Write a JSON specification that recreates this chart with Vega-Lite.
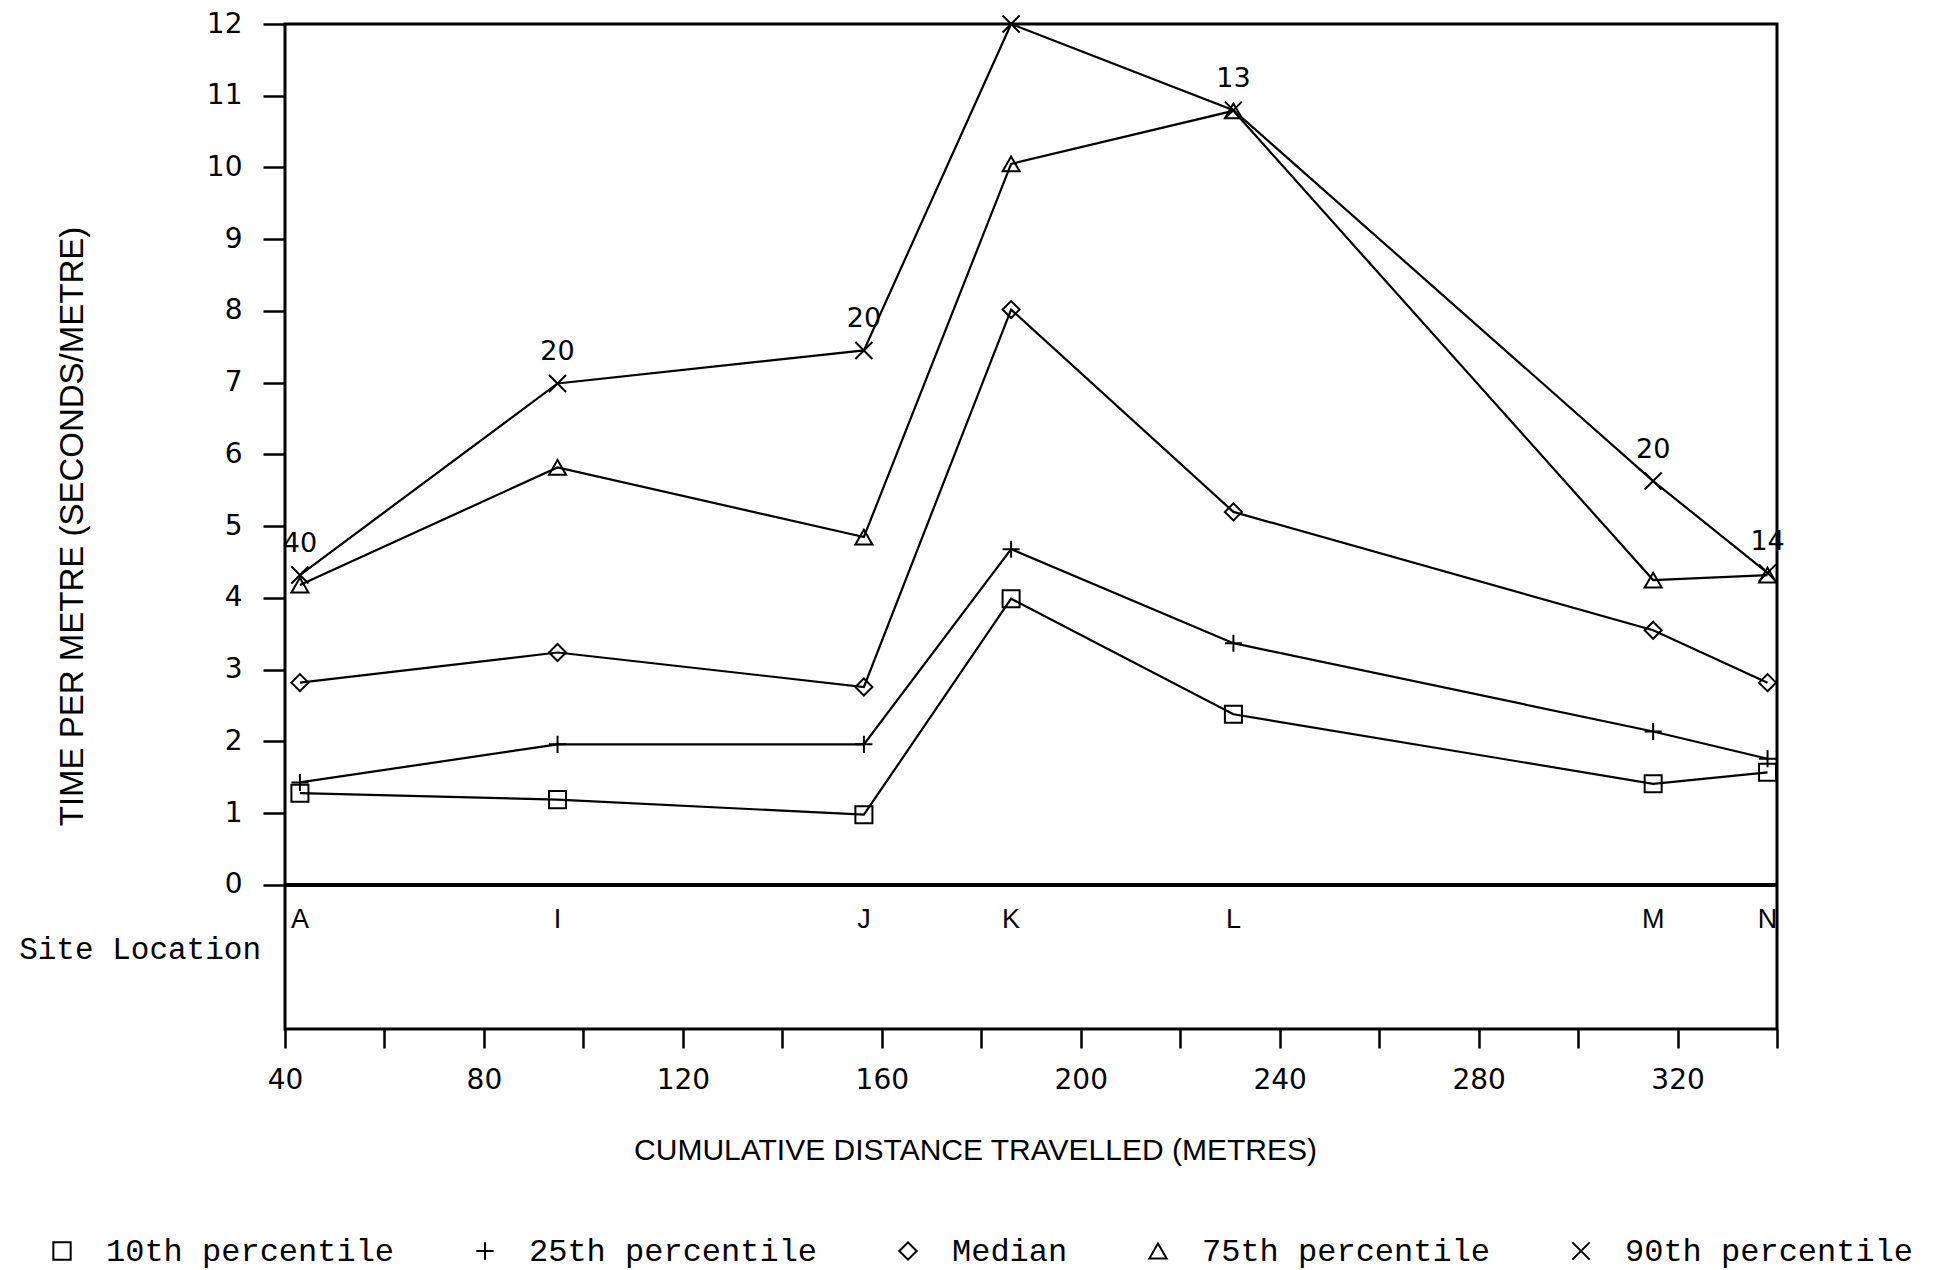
{
  "$schema": "https://vega.github.io/schema/vega-lite/v6.json",
  "width": 1492,
  "height": 1005,
  "autosize": {"type": "none"},
  "padding": {"left": 285, "top": 24, "right": 158, "bottom": 241},
  "background": "white",
  "config": {
    "view": {"stroke": "black", "strokeWidth": 3},
    "font": "Liberation Sans",
    "axis": {"grid": false, "domain": false, "tickColor": "black", "labelColor": "black", "titleColor": "black", "titleFontWeight": "normal", "labelFont": "DejaVu Sans"}
  },
  "data": {
    "values": [
      {"site": "A", "x": 43, "series": "10th percentile", "value": 1.28},
      {"site": "I", "x": 94.8, "series": "10th percentile", "value": 1.19},
      {"site": "J", "x": 156.4, "series": "10th percentile", "value": 0.98},
      {"site": "K", "x": 186, "series": "10th percentile", "value": 3.99},
      {"site": "L", "x": 230.7, "series": "10th percentile", "value": 2.38},
      {"site": "M", "x": 315.1, "series": "10th percentile", "value": 1.41},
      {"site": "N", "x": 338.1, "series": "10th percentile", "value": 1.57},
      {"site": "A", "x": 43, "series": "25th percentile", "value": 1.43},
      {"site": "I", "x": 94.8, "series": "25th percentile", "value": 1.96},
      {"site": "J", "x": 156.4, "series": "25th percentile", "value": 1.96},
      {"site": "K", "x": 186, "series": "25th percentile", "value": 4.68},
      {"site": "L", "x": 230.7, "series": "25th percentile", "value": 3.37},
      {"site": "M", "x": 315.1, "series": "25th percentile", "value": 2.14},
      {"site": "N", "x": 338.1, "series": "25th percentile", "value": 1.76},
      {"site": "A", "x": 43, "series": "Median", "value": 2.82},
      {"site": "I", "x": 94.8, "series": "Median", "value": 3.24},
      {"site": "J", "x": 156.4, "series": "Median", "value": 2.76},
      {"site": "K", "x": 186, "series": "Median", "value": 8.02},
      {"site": "L", "x": 230.7, "series": "Median", "value": 5.2},
      {"site": "M", "x": 315.1, "series": "Median", "value": 3.55},
      {"site": "N", "x": 338.1, "series": "Median", "value": 2.82},
      {"site": "A", "x": 43, "series": "75th percentile", "value": 4.18},
      {"site": "I", "x": 94.8, "series": "75th percentile", "value": 5.82},
      {"site": "J", "x": 156.4, "series": "75th percentile", "value": 4.85},
      {"site": "K", "x": 186, "series": "75th percentile", "value": 10.05},
      {"site": "L", "x": 230.7, "series": "75th percentile", "value": 10.79},
      {"site": "M", "x": 315.1, "series": "75th percentile", "value": 4.25},
      {"site": "N", "x": 338.1, "series": "75th percentile", "value": 4.32},
      {"site": "A", "x": 43, "series": "90th percentile", "value": 4.32, "n": "40"},
      {"site": "I", "x": 94.8, "series": "90th percentile", "value": 6.99, "n": "20"},
      {"site": "J", "x": 156.4, "series": "90th percentile", "value": 7.45, "n": "20"},
      {"site": "K", "x": 186, "series": "90th percentile", "value": 12.0},
      {"site": "L", "x": 230.7, "series": "90th percentile", "value": 10.8, "n": "13"},
      {"site": "M", "x": 315.1, "series": "90th percentile", "value": 5.63, "n": "20"},
      {"site": "N", "x": 338.1, "series": "90th percentile", "value": 4.35, "n": "14"}
    ]
  },
  "layer": [
    {
      "mark": {"type": "line", "stroke": "black", "strokeWidth": 2.2},
      "encoding": {
        "x": {
          "field": "x", "type": "quantitative", "title": "CUMULATIVE DISTANCE TRAVELLED (METRES)",
          "scale": {"domain": [40, 340], "nice": false, "zero": false},
          "axis": {
            "values": [40, 60, 80, 100, 120, 140, 160, 180, 200, 220, 240, 260, 280, 300, 320, 340],
            "labelExpr": "datum.value % 40 == 0 && datum.value < 340 ? datum.label : ''",
            "tickSize": 19, "tickWidth": 2.5, "labelFontSize": 28, "labelPadding": 32, "labelBaseline": "middle",
            "labelFlush": false, "labelOverlap": false,
            "titleFontSize": 30, "titleX": 690, "titleY": 121, "titleBaseline": "middle", "titleAlign": "center"
          }
        },
        "y": {
          "field": "value", "type": "quantitative", "title": "TIME PER METRE (SECONDS/METRE)",
          "scale": {"domain": [-2.007, 12], "nice": false, "zero": false},
          "axis": {
            "values": [0, 1, 2, 3, 4, 5, 6, 7, 8, 9, 10, 11, 12], "format": "d",
            "tickSize": 22, "tickWidth": 2.5, "labelFontSize": 28, "labelPadding": 21,
            "titleFontSize": 33, "titleX": -213, "titleY": 502, "titleAngle": -90, "titleBaseline": "middle", "titleAlign": "center"
          }
        },
        "detail": {"field": "series"}
      }
    },
    {
      "mark": {"type": "rule", "stroke": "black", "strokeWidth": 3},
      "encoding": {"y": {"datum": 0, "type": "quantitative"}}
    },
    {
      "mark": {"type": "point", "filled": false, "stroke": "black", "strokeWidth": 2, "size": 290, "opacity": 1},
      "encoding": {
        "x": {"field": "x", "type": "quantitative", "title": "CUMULATIVE DISTANCE TRAVELLED (METRES)"},
        "y": {"field": "value", "type": "quantitative", "title": "TIME PER METRE (SECONDS/METRE)"},
        "shape": {
          "field": "series", "type": "nominal",
          "scale": {
            "domain": ["10th percentile", "25th percentile", "Median", "75th percentile", "90th percentile"],
            "range": ["square", "M-1,0L1,0M0,-1L0,1", "diamond", "triangle-up", "M-1,-1L1,1M-1,1L1,-1"]
          },
          "legend": {
            "title": null, "orient": "none", "legendX": -239, "legendY": 1211, "direction": "horizontal",
            "padding": 0, "labelFont": "Liberation Mono", "labelFontSize": 32, "labelColor": "black",
            "labelOffset": 28, "columnPadding": 74, "symbolSize": 300, "symbolStrokeColor": "black",
            "symbolStrokeWidth": 2, "symbolFillColor": "transparent", "labelLimit": 0
          }
        }
      }
    },
    {
      "transform": [{"filter": "isValid(datum.n)"}],
      "mark": {"type": "text", "font": "DejaVu Sans", "fontSize": 27, "dy": -31, "baseline": "middle", "align": "center", "color": "black"},
      "encoding": {
        "x": {"field": "x", "type": "quantitative", "title": "CUMULATIVE DISTANCE TRAVELLED (METRES)"},
        "y": {"field": "value", "type": "quantitative", "title": "TIME PER METRE (SECONDS/METRE)"},
        "text": {"field": "n"}
      }
    },
    {
      "transform": [{"filter": "datum.series == 'Median'"}],
      "mark": {"type": "text", "fontSize": 27, "baseline": "middle", "align": "center", "color": "black"},
      "encoding": {
        "x": {"field": "x", "type": "quantitative", "title": "CUMULATIVE DISTANCE TRAVELLED (METRES)"},
        "y": {"datum": -0.49, "type": "quantitative"},
        "text": {"field": "site"}
      }
    },
    {
      "data": {"values": [{"t": "Site Location"}]},
      "mark": {"type": "text", "font": "Liberation Mono", "fontSize": 31, "baseline": "middle", "align": "right", "dx": -24, "color": "black"},
      "encoding": {
        "x": {"datum": 40, "type": "quantitative"},
        "y": {"datum": -0.9, "type": "quantitative"},
        "text": {"field": "t"}
      }
    }
  ]
}
